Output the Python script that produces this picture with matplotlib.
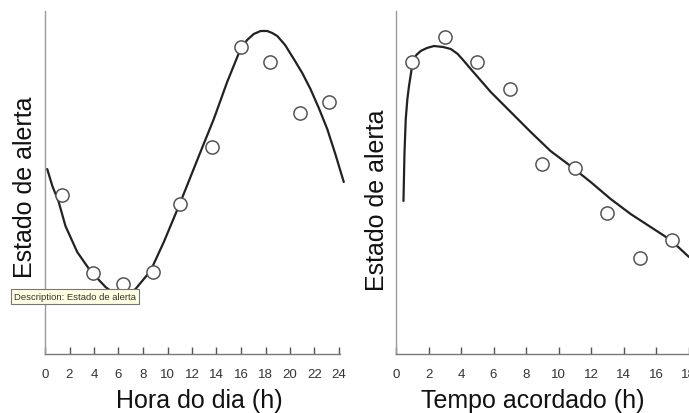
import matplotlib
matplotlib.use("Agg")
import matplotlib.pyplot as plt

# ---- Estado de alerta ao longo do dia ----
hora_pts = [1.4, 3.9, 6.35, 8.8, 11.06, 13.65, 16.04, 18.35, 20.8, 23.17]
alerta_hora_pts = [15.9, 8.1, 7.0, 8.2, 15.0, 20.7, 30.7, 29.2, 24.1, 25.2]

hora_curva = [0.18, 0.6, 1.12, 1.67, 2.63, 3.71, 4.94, 5.6, 6.2, 6.8, 7.39, 8.61, 9.7,
              11.06, 12.69, 13.78, 14.87, 15.96, 16.5, 17.04, 17.6, 18.14, 18.55,
              18.96, 19.6, 20.31, 21.0, 21.67, 22.35, 23.04, 23.7, 24.39]
alerta_hora_curva = [18.5, 16.8, 15.2, 12.8, 10.2, 8.3, 6.7, 6.1, 5.9, 6.0, 6.5, 8.3, 11.2,
                     15.2, 20.2, 23.5, 27.2, 30.5, 31.4, 32.0, 32.3, 32.3, 32.1,
                     31.8, 30.9, 29.5, 28.1, 26.5, 24.6, 22.5, 20.0, 17.2]

# ---- Estado de alerta em funcao do tempo acordado ----
tempo_pts = [1, 3, 5, 7, 9, 11, 13, 15, 17]
alerta_tempo_pts = [29.2, 31.7, 29.2, 26.5, 19.0, 18.6, 14.1, 9.6, 11.4]

tempo_curva = [0.46, 0.52, 0.60, 0.70, 0.80, 1.01, 1.25, 1.52, 1.9, 2.34, 2.9, 3.37,
               3.8, 4.18, 4.6, 5.83, 7.06, 8.29, 9.51, 10.74, 11.98, 13.21, 14.44,
               15.67, 16.90, 18.03]
alerta_tempo_curva = [15.3, 20.0, 23.5, 25.5, 26.8, 29.0, 29.9, 30.3, 30.6, 30.8, 30.7, 30.5,
                      30.0, 29.3, 28.5, 26.2, 24.2, 22.2, 20.3, 18.8, 17.2, 15.5, 14.0,
                      12.7, 11.4, 9.7]

hora_ticks = list(range(0, 25, 2))
tempo_ticks = list(range(0, 19, 2))

W, H = 689, 414
fig = plt.figure(figsize=(W / 100, H / 100), dpi=100)
fig.patch.set_facecolor("white")


def px_axes(left, top, right, bottom):
    return fig.add_axes([left / W, (H - bottom) / H, (right - left) / W, (bottom - top) / H])


spine_col = "#7a7a7a"
line_col = "#222222"
label_font = ["Liberation Sans", "DejaVu Sans"]


def style(ax, xmax, xbound, ticks):
    ax.set_ylim(0, 34.3)
    ax.set_xlim(0, xmax)
    for s in ("top", "right"):
        ax.spines[s].set_visible(False)
    ax.spines["left"].set_color("#9a9a9a")
    ax.spines["left"].set_linewidth(1.0)
    ax.spines["bottom"].set_color(spine_col)
    ax.spines["bottom"].set_linewidth(1.0)
    ax.spines["bottom"].set_bounds(0, xbound)
    ax.set_yticks([])
    ax.set_xticks(ticks)
    ax.set_xticklabels([str(t) for t in ticks])
    ax.tick_params(axis="x", direction="in", length=5, width=1.0, color="#555555",
                   pad=10, labelsize=9.5, labelcolor="#333333")
    for lab in ax.get_xticklabels():
        lab.set_family(label_font)
    ax.set_facecolor("none")


ax1 = px_axes(45, 12, 45 + 24.6 * 12.25, 355)
style(ax1, 24.6, 24.1, hora_ticks)
ax1.plot(hora_curva, alerta_hora_curva, color=line_col, lw=1.6, solid_capstyle="round",
         solid_joinstyle="round", clip_on=False, zorder=2)
ax1.plot(hora_pts, alerta_hora_pts, "o", ms=9.5, mfc="white", mec="#555555", mew=1.1,
         clip_on=False, zorder=3)

ax2 = px_axes(396, 12, 396 + 18.5 * 16.25, 355)
style(ax2, 18.5, 18.5, tempo_ticks)
ax2.plot(tempo_curva, alerta_tempo_curva, color=line_col, lw=1.6, solid_capstyle="round",
         solid_joinstyle="round", clip_on=False, zorder=2)
ax2.plot(tempo_pts, alerta_tempo_pts, "o", ms=9.5, mfc="white", mec="#555555", mew=1.1,
         clip_on=False, zorder=3)

# axis titles
fig.text(199 / W, (H - 408) / H, "Hora do dia (h)", ha="center", va="baseline",
         fontsize=18, family=label_font, color="#111111")
fig.text(532.5 / W, (H - 408) / H, "Tempo acordado (h)", ha="center", va="baseline",
         fontsize=18, family=label_font, color="#111111")
fig.text(25 / W, (H - 187.5) / H, "Estado de alerta", ha="center", va="center",
         rotation=90, fontsize=18, family=label_font, color="#111111")
fig.text(377 / W, (H - 200) / H, "Estado de alerta", ha="center", va="center",
         rotation=90, fontsize=18, family=label_font, color="#111111")

# hover description box
fig.text(14 / W, (H - 297.5) / H, "Description: Estado de alerta", ha="left", va="center",
         fontsize=6.8, family=label_font, color="#333333", zorder=10,
         bbox=dict(boxstyle="square,pad=0.3", facecolor="#ffffe1", edgecolor="#767676",
                   linewidth=0.8))

fig.savefig("out.png", dpi=100, facecolor="white")
